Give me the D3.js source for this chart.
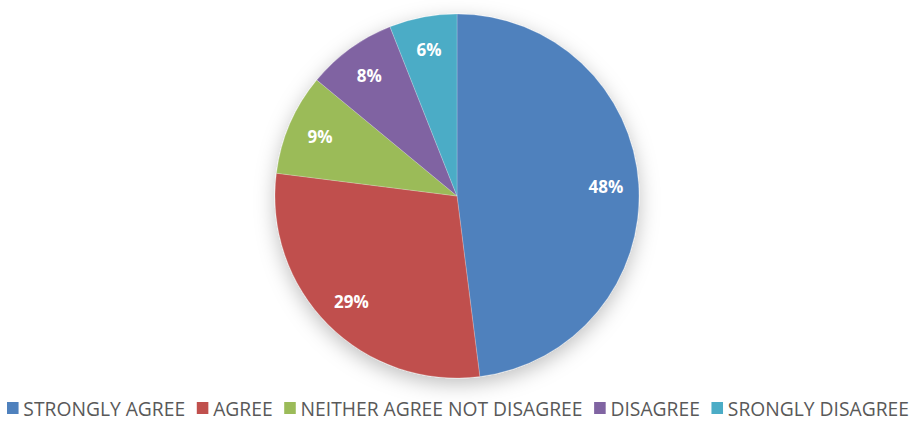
<!DOCTYPE html>
<html>
<head>
<meta charset="utf-8">
<script src="https://cdn.jsdelivr.net/npm/d3@7"></script>
<style>
  html, body { margin: 0; padding: 0; background: #ffffff; }
  svg { display: block; }
</style>
</head>
<body>
<svg id="chart" width="911" height="432"></svg>
<script>
const categories = ["STRONGLY AGREE", "AGREE", "NEITHER AGREE NOT DISAGREE", "DISAGREE", "SRONGLY DISAGREE"];
const values = [48, 29, 9, 8, 6];
const colors = ["#4F81BD", "#C0504D", "#9BBB59", "#8064A2", "#4BACC6"];

const svg = d3.select("#chart");
const cx = 457, cy = 196, R = 182;

const defs = svg.append("defs");
const f = defs.append("filter").attr("id", "shadow")
  .attr("x", "-20%").attr("y", "-20%").attr("width", "140%").attr("height", "140%");
f.append("feDropShadow").attr("dx", 0).attr("dy", 6).attr("stdDeviation", 10)
  .attr("flood-color", "#000").attr("flood-opacity", 0.25);

const data = categories.map((c, i) => ({ cat: c, value: values[i], color: colors[i] }));
const pie = d3.pie().value(d => d.value).sort(null);
const arcs = pie(data);
const arc = d3.arc().innerRadius(0).outerRadius(R);
const labelArc = d3.arc().innerRadius(R * 0.82).outerRadius(R * 0.82);

const g = svg.append("g").attr("transform", `translate(${cx},${cy})`);
g.append("g").attr("filter", "url(#shadow)")
  .selectAll("path").data(arcs).join("path")
  .attr("d", arc)
  .attr("fill", d => d.data.color)
  .attr("stroke", "rgba(255,255,255,0.35)")
  .attr("stroke-width", 0.6);

g.selectAll("text.lbl").data(arcs).join("text")
  .attr("class", "lbl")
  .attr("transform", d => `translate(${labelArc.centroid(d)})`)
  .attr("text-anchor", "middle")
  .attr("dominant-baseline", "central")
  .attr("font-family", "'Open Sans', sans-serif")
  .attr("font-weight", "bold")
  .attr("font-size", 17)
  .attr("fill", "#ffffff")
  .text(d => d3.format(".0%")(d.data.value / d3.sum(values)));

// Legend
const legend = svg.append("g").attr("class", "legend");
const fs = 20, sq = 12, gapSq = 5, gapItem = 12;
let x = 0;
data.forEach(d => {
  const it = legend.append("g").attr("transform", `translate(${x},0)`);
  it.append("rect").attr("x", 0).attr("y", -sq / 2).attr("width", sq).attr("height", sq).attr("fill", d.color);
  const t = it.append("text").attr("x", sq + gapSq).attr("y", 0)
    .attr("dominant-baseline", "central")
    .attr("font-family", "'Open Sans', sans-serif")
    .attr("font-size", fs).attr("fill", "#595959").text(d.cat);
  x += sq + gapSq + t.node().getComputedTextLength() + gapItem;
});
const total = x - gapItem;
const left = 7, right = 909;
const k = (right - left) / total;
legend.attr("transform", `translate(${left},408) scale(${k},1)`);
</script>
</body>
</html>
